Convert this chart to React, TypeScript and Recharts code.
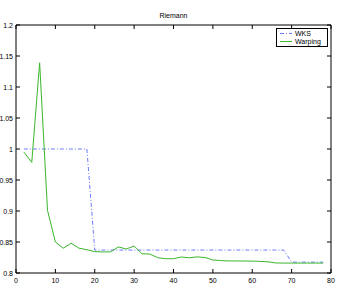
import React from "react";
import { LineChart, Line, XAxis, YAxis, Legend } from "recharts";

const xValues = [2, 4, 6, 8, 10, 12, 14, 16, 18, 20, 22, 24, 26, 28, 30, 32, 34, 36, 38, 40, 42, 44, 46, 48, 50, 52, 54, 56, 58, 60, 62, 64, 66, 68, 70, 72, 74, 76, 78];
const wksValues = [1, 1, 1, 1, 1, 1, 1, 1, 1, 0.837, 0.837, 0.837, 0.837, 0.837, 0.837, 0.837, 0.837, 0.837, 0.837, 0.837, 0.837, 0.837, 0.837, 0.837, 0.837, 0.837, 0.837, 0.837, 0.837, 0.837, 0.837, 0.837, 0.837, 0.837, 0.8175, 0.8175, 0.8175, 0.8175, 0.8175];
const warpingValues = [0.995, 0.9785, 1.139, 0.901, 0.85, 0.84, 0.848, 0.84, 0.8376, 0.8344, 0.834, 0.834, 0.842, 0.8387, 0.8435, 0.831, 0.8305, 0.8247, 0.823, 0.823, 0.8258, 0.8245, 0.826, 0.825, 0.821, 0.82, 0.8195, 0.8194, 0.8194, 0.8192, 0.8188, 0.818, 0.8162, 0.816, 0.816, 0.816, 0.816, 0.816, 0.816];
const xTicks = [0, 10, 20, 30, 40, 50, 60, 70, 80];
const yTicks = [0.8, 0.85, 0.9, 0.95, 1, 1.05, 1.1, 1.15, 1.2];
const seriesNames = ["WKS", "Warping"];
const title = "Riemann";

const data = xValues.map((x, i) => ({ x, wks: wksValues[i], warping: warpingValues[i] }));

const FONT = "'Liberation Sans', Arial, Helvetica, sans-serif";
const BLUE = "#6a7bff";
const GREEN = "#3cb52c";
const TL = 4;

const BottomTick = (props: any) => {
  const { x, y, payload } = props;
  return (
    <g>
      <line x1={x} y1={y} x2={x} y2={y - TL} stroke="#000" strokeWidth={1} />
      <text x={x} y={y + 10} textAnchor="middle" fontSize={7} fontFamily={FONT} fill="#000">{String(payload.value)}</text>
    </g>
  );
};
const TopTick = (props: any) => {
  const { x, y } = props;
  return <line x1={x} y1={y} x2={x} y2={y + TL} stroke="#000" strokeWidth={1} />;
};
const LeftTick = (props: any) => {
  const { x, y, payload } = props;
  return (
    <g>
      <line x1={x} y1={y} x2={x + TL} y2={y} stroke="#000" strokeWidth={1} />
      <text x={x - 3} y={y + 2.5} textAnchor="end" fontSize={7} fontFamily={FONT} fill="#000">{String(Math.round(payload.value * 100) / 100)}</text>
    </g>
  );
};
const RightTick = (props: any) => {
  const { x, y } = props;
  return <line x1={x} y1={y} x2={x - TL} y2={y} stroke="#000" strokeWidth={1} />;
};

const LegendBox = () => (
  <svg width={52} height={19} style={{ display: "block" }}>
    <rect x={0.5} y={0.5} width={51} height={18} fill="#fff" stroke="#000" strokeWidth={1} />
    <line x1={4} y1={5.5} x2={16} y2={5.5} stroke={BLUE} strokeWidth={1} strokeDasharray="4 2 1 2" />
    <text x={19} y={8} fontSize={7} fontFamily={FONT} fill="#000">{seriesNames[0]}</text>
    <line x1={4} y1={13.5} x2={16} y2={13.5} stroke={GREEN} strokeWidth={1} />
    <text x={19} y={16} fontSize={7} fontFamily={FONT} fill="#000">{seriesNames[1]}</text>
  </svg>
);

export default function App() {
  return (
    <div style={{ position: "absolute", left: 0, top: 0, width: 338, height: 284, background: "#fff" }}>
      <div style={{ position: "absolute", left: 0, width: 347, top: 12, textAlign: "center", fontFamily: FONT, fontSize: 7, lineHeight: "8px", color: "#000" }}>{title}</div>
      <LineChart width={338} height={284} data={data} margin={{ top: 24, right: 6, bottom: 0, left: 0 }}>
        <XAxis xAxisId="b" dataKey="x" type="number" domain={[0, 80]} ticks={xTicks} orientation="bottom" height={11} tickSize={0} tickMargin={0} tickLine={false} axisLine={{ stroke: "#000" }} tick={<BottomTick />} interval={0} allowDataOverflow />
        <XAxis xAxisId="t" dataKey="x" type="number" domain={[0, 80]} ticks={xTicks} orientation="top" height={1} tickSize={0} tickMargin={0} tickLine={false} axisLine={{ stroke: "#000" }} tick={<TopTick />} interval={0} allowDataOverflow />
        <YAxis yAxisId="l" type="number" domain={[0.8, 1.2]} ticks={yTicks} orientation="left" width={16} tickSize={0} tickMargin={0} tickLine={false} axisLine={{ stroke: "#000" }} tick={<LeftTick />} interval={0} allowDataOverflow />
        <YAxis yAxisId="r" type="number" domain={[0.8, 1.2]} ticks={yTicks} orientation="right" width={1} tickSize={0} tickMargin={0} tickLine={false} axisLine={{ stroke: "#000" }} tick={<RightTick />} interval={0} allowDataOverflow />
        <Legend layout="vertical" align="center" verticalAlign="middle" content={<LegendBox />} wrapperStyle={{ position: "absolute", left: 276, top: 28, width: 52, height: 19 }} />
        <Line xAxisId="b" yAxisId="l" dataKey="wks" name={seriesNames[0]} stroke={BLUE} strokeWidth={1} strokeDasharray="4 2 1 2" dot={false} isAnimationActive={false} />
        <Line xAxisId="b" yAxisId="l" dataKey="warping" name={seriesNames[1]} stroke={GREEN} strokeWidth={1} dot={false} isAnimationActive={false} />
      </LineChart>
    </div>
  );
}
